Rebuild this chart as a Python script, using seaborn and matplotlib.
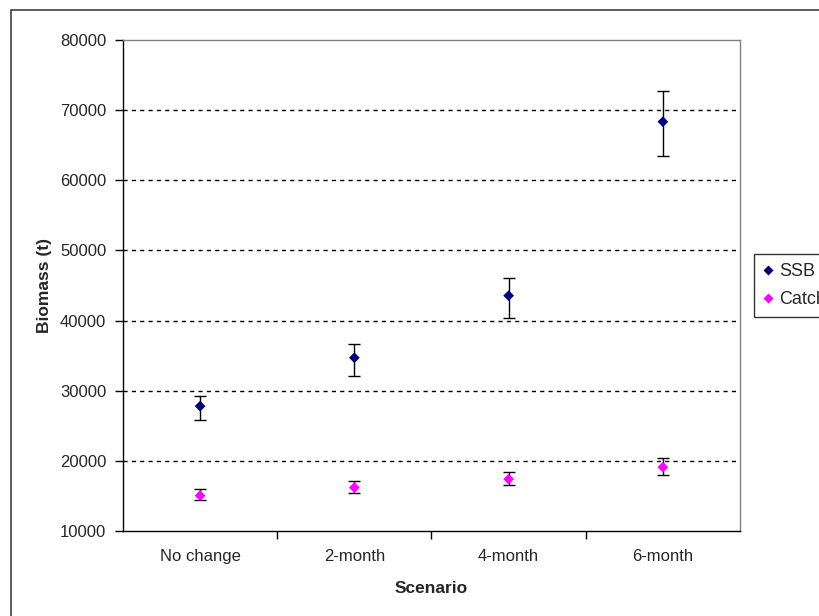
import numpy as np
import pandas as pd
import seaborn as sns
import matplotlib.pyplot as plt
from matplotlib.patches import Rectangle
from matplotlib.lines import Line2D

# Data
scenarios = ["No change", "2-month", "4-month", "6-month"]
ssb = [27800, 34700, 43550, 68350]
ssb_lo = [25800, 32050, 40300, 63450]
ssb_hi = [29300, 36650, 46050, 72800]
catch = [15050, 16200, 17400, 19100]
catch_lo = [14350, 15450, 16550, 18050]
catch_hi = [16000, 17150, 18400, 20400]

series_names = ["SSB", "Catch"]
colors = {"SSB": "#000080", "Catch": "#FF00FF"}

df = pd.DataFrame({
    "Scenario": scenarios * 2,
    "Biomass": ssb + catch,
    "lo": ssb_lo + catch_lo,
    "hi": ssb_hi + catch_hi,
    "Series": [series_names[0]] * 4 + [series_names[1]] * 4,
})

sns.set_theme(style="white")
plt.rcParams["font.family"] = ["Liberation Sans", "DejaVu Sans"]

fig = plt.figure(figsize=(8.2, 6.16), dpi=100)
ax = fig.add_axes([123 / 820, 1 - 531 / 616, 617 / 820, 491 / 616])

# error bars first so markers sit on top
pos = {s: i for i, s in enumerate(scenarios)}
for name, grp in df.groupby("Series"):
    x = grp["Scenario"].map(pos).values
    y = grp["Biomass"].values
    ax.errorbar(x, y, yerr=[y - grp["lo"].values, grp["hi"].values - y],
                fmt="none", ecolor="black", elinewidth=1.0, capsize=4,
                capthick=1.0, zorder=3)

sns.scatterplot(data=df, x="Scenario", y="Biomass", hue="Series",
                palette=colors, marker="D", s=30, edgecolor="none",
                legend=False, ax=ax, zorder=4)

ax.set_xlim(-0.5, 3.5)
ax.set_ylim(10000, 80000)
ax.set_yticks(np.arange(10000, 80001, 10000))
ax.set_xticks(range(len(scenarios)))
ax.set_xticklabels(scenarios)
ax.set_xticks([0.5, 1.5, 2.5], minor=True)

for yv in range(20000, 80000, 10000):
    ax.axhline(yv, color="black", lw=1.0, ls=(0, (3, 3)), zorder=1)

ax.tick_params(axis="x", which="major", length=0, pad=13, labelsize=12)
ax.tick_params(axis="x", which="minor", bottom=True, length=6, width=1, color="black", direction="out")
ax.tick_params(axis="y", left=True, length=6, width=1, color="black", direction="out", labelsize=12, pad=6)

for side in ["left", "bottom"]:
    ax.spines[side].set_color("black")
    ax.spines[side].set_linewidth(1.0)
for side in ["top", "right"]:
    ax.spines[side].set_color("#808080")
    ax.spines[side].set_linewidth(1.0)

ax.set_xlabel("Scenario", fontsize=12.5, fontweight="bold", labelpad=12)
ax.set_ylabel("Biomass (t)", fontsize=12.5, fontweight="bold", labelpad=6)

handles = [Line2D([], [], marker="D", ls="none", markersize=5,
                  markerfacecolor=colors[n], markeredgecolor="none", label=n)
           for n in series_names]
leg = fig.legend(handles=handles, loc="upper left",
                 bbox_to_anchor=(754 / 820, 1 - 254 / 616), fontsize=13,
                 frameon=True, fancybox=False, handlelength=0.6,
                 handletextpad=0.3, borderpad=0.5, labelspacing=0.6,
                 borderaxespad=0)
leg.get_frame().set_edgecolor("black")
leg.get_frame().set_linewidth(1.0)

# outer chart frame
fig.patches.append(Rectangle((11 / 820, -0.05), 1.0, 1 - 10 / 616 + 0.05,
                             transform=fig.transFigure, fill=False,
                             edgecolor="#404040", lw=1.2, clip_on=False))

fig.savefig("out.png", dpi=100)
